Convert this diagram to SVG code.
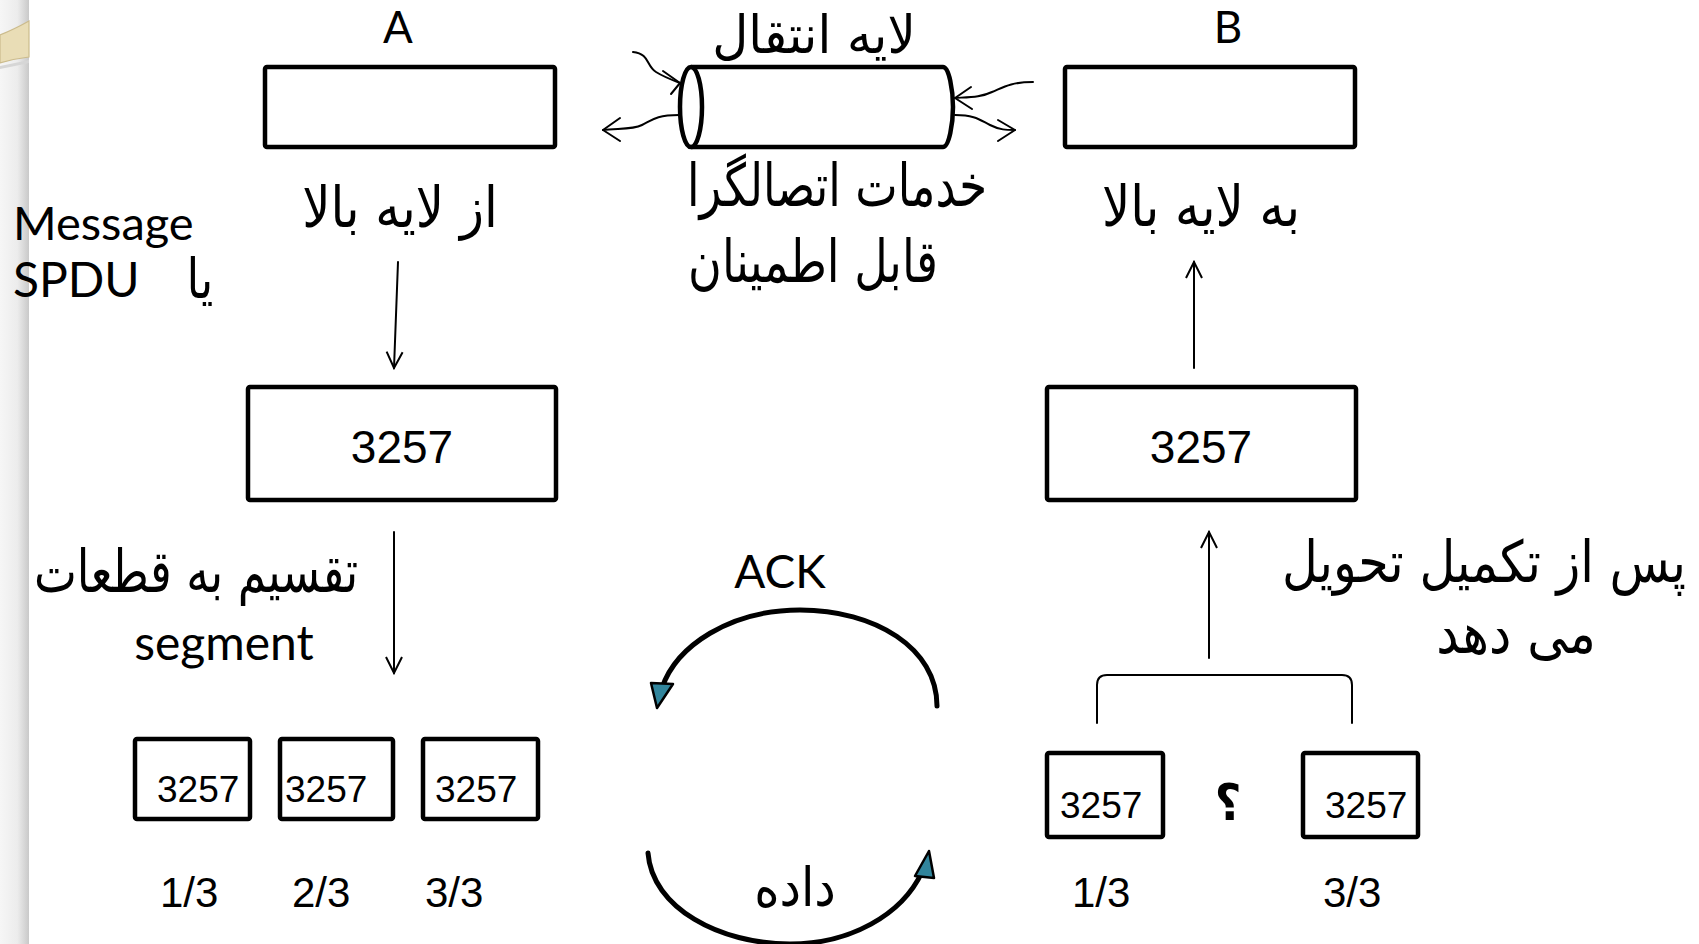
<svg xmlns="http://www.w3.org/2000/svg" width="1699" height="944" viewBox="0 0 1699 944">
<style>
.box{fill:none;stroke:#000;stroke-width:4.5;stroke-linejoin:round}
.lat{font-family:Lato,"Open Sans","DejaVu Sans",sans-serif;fill:#000}
.num{font-family:"Liberation Sans",Arial,sans-serif;fill:#000}
.fa{font-family:"DejaVu Sans","Noto Sans",sans-serif;fill:#000;font-size:46px;text-anchor:middle}
.ln{fill:none;stroke:#000;stroke-width:2;stroke-linecap:round;stroke-linejoin:round}
.arc{fill:none;stroke:#000;stroke-width:5;stroke-linecap:round}
.head{fill:#31859c;stroke:#000;stroke-width:2.5;stroke-linejoin:round}
</style>
<defs>
<linearGradient id="strip" x1="0" y1="0" x2="1" y2="0">
<stop offset="0" stop-color="#f6f6f6"/>
<stop offset="0.6" stop-color="#ececec"/>
<stop offset="1" stop-color="#c9c9c9"/>
</linearGradient>
<marker id="open" viewBox="0 0 20 20" refX="18" refY="10" markerWidth="20" markerHeight="20" markerUnits="userSpaceOnUse" orient="auto">
<path d="M2,2 L18,10 L2,18" fill="none" stroke="#000" stroke-width="2"/>
</marker>
</defs>
<rect width="1699" height="944" fill="#fff"/>
<g id="decor">
<rect x="0" y="0" width="29" height="944" fill="url(#strip)"/>
<path d="M0,66 C10,64 20,62 29,60 L29,63 C20,65 10,67 0,69 Z" fill="#d6d6d6"/>
<path d="M0,35 C10,31 20,26 29,21 L29,57 C20,58 10,60 0,63 Z" fill="#e9ddb6" stroke="#cbbb8c" stroke-width="1.2"/>
</g>

<g id="label-A"><text class="lat" x="398" y="43" font-size="44" text-anchor="middle">A</text></g>
<g id="label-B"><text class="lat" x="1228" y="43" font-size="44" text-anchor="middle">B</text></g>

<g id="node-A-top"><rect class="box" x="265" y="67" width="290" height="80" rx="2"/></g>
<g id="node-B-top"><rect class="box" x="1065" y="67" width="290" height="80" rx="2"/></g>

<g id="node-transport">
<path d="M691,67 L943,67 C949,67 953,90 953,107 C953,124 949,147 943,147 L691,147" fill="#fff" stroke="#000" stroke-width="4.5" stroke-linejoin="round"/>
<ellipse cx="691" cy="107" rx="11" ry="40" fill="#fff" stroke="#000" stroke-width="4.5"/>
<text class="fa" transform="translate(814,53) scale(1.08,1.14)" direction="rtl">لایه انتقال</text>
<text class="fa" transform="translate(837,206) scale(0.98,1.28)" direction="rtl">خدمات اتصالگرا</text>
<text class="fa" transform="translate(813,282) scale(1,1.28)" direction="rtl">قابل اطمینان</text>
</g>

<g id="label-from-upper"><text class="fa" transform="translate(400,227) scale(1.08,1.22)" direction="rtl">از لایه بالا</text></g>
<g id="label-to-upper"><text class="fa" transform="translate(1201,226) scale(1.08,1.22)" direction="rtl">به لایه بالا</text></g>

<g id="label-message">
<text class="lat" x="13" y="240" font-size="47">Message</text>
<text class="lat" x="13" y="297" font-size="48">SPDU</text>
<text class="fa" transform="translate(200,298) scale(1,1.2)" font-size="36" direction="rtl">یا</text>
</g>

<g id="node-A-msg">
<rect class="box" x="248" y="387" width="308" height="113" rx="2"/>
<text class="num" x="402" y="463" font-size="46" text-anchor="middle">3257</text>
</g>
<g id="node-B-msg">
<rect class="box" x="1047" y="387" width="309" height="113" rx="2"/>
<text class="num" x="1201" y="463" font-size="46" text-anchor="middle">3257</text>
</g>

<g id="label-split">
<text class="fa" transform="translate(196,592) scale(0.99,1.28)" direction="rtl">تقسیم به قطعات</text>
<text class="lat" x="224" y="660" font-size="48" text-anchor="middle">segment</text>
</g>

<g id="label-deliver">
<text class="fa" transform="translate(1484,582) scale(1.07,1.25)" direction="rtl">پس از تکمیل تحویل</text>
<text class="fa" transform="translate(1516,653) scale(1.09,1.25)" direction="rtl">می دهد</text>
</g>

<g id="node-A-seg1">
<rect class="box" x="135" y="739" width="115" height="80" rx="2"/>
<text class="num" x="157" y="802" font-size="37">3257</text>
<text class="num" x="160" y="907" font-size="42">1/3</text>
</g>
<g id="node-A-seg2">
<rect class="box" x="280" y="739" width="113" height="80" rx="2"/>
<text class="num" x="285" y="802" font-size="37">3257</text>
<text class="num" x="292" y="907" font-size="42">2/3</text>
</g>
<g id="node-A-seg3">
<rect class="box" x="423" y="739" width="115" height="80" rx="2"/>
<text class="num" x="435" y="802" font-size="37">3257</text>
<text class="num" x="425" y="907" font-size="42">3/3</text>
</g>

<g id="node-B-seg1">
<rect class="box" x="1047" y="753" width="116" height="84" rx="2"/>
<text class="num" x="1060" y="818" font-size="37">3257</text>
<text class="num" x="1072" y="907" font-size="42">1/3</text>
</g>
<g id="node-B-missing"><text class="fa" transform="translate(1228,820) scale(1,1.1)" font-size="56" font-weight="bold">؟</text></g>
<g id="node-B-seg3">
<rect class="box" x="1303" y="753" width="115" height="84" rx="2"/>
<text class="num" x="1325" y="818" font-size="37">3257</text>
<text class="num" x="1323" y="907" font-size="42">3/3</text>
</g>

<g id="label-ack"><text class="lat" x="780" y="588" font-size="46" text-anchor="middle">ACK</text></g>
<g id="label-data"><text class="fa" transform="translate(795,906) scale(1.05,1.18)" font-size="40" direction="rtl">داده</text></g>

<g id="connectors">
<path class="ln" d="M633,52 C650,54 646,66 656,72 C664,77 672,80 680,83"/>
<path class="ln" d="M663,71 L680,83 L671,94"/>
<path class="ln" d="M679,115 C656,115 652,120 642,125 C632,130 616,128 603,130"/>
<path class="ln" d="M620,118 L603,130 L620,141"/>
<path class="ln" d="M1033,82 C1010,82 1002,88 992,92 C982,97 970,97 955,98"/>
<path class="ln" d="M971,87 L955,98 L972,109"/>
<path class="ln" d="M955,115 C975,115 980,120 990,125 C1000,130 1006,130 1015,130"/>
<path class="ln" d="M998,120 L1015,130 L998,141"/>

<line class="ln" x1="398" y1="262" x2="394" y2="368" marker-end="url(#open)"/>
<line class="ln" x1="394" y1="532" x2="394" y2="673" marker-end="url(#open)"/>
<line class="ln" x1="1194" y1="368" x2="1194" y2="262" marker-end="url(#open)"/>
<line class="ln" x1="1209" y1="658" x2="1209" y2="532" marker-end="url(#open)"/>
<path class="ln" d="M1097,723 L1097,685 Q1097,675 1107,675 L1342,675 Q1352,675 1352,685 L1352,723"/>

<path class="arc" d="M937,706 C937,648 875,610 800,610 C730,610 676,646 662,688"/>
<path class="head" d="M657,708 L651,683 L673,684 Z"/>
<path class="arc" d="M648,853 C652,908 720,944 790,944 C850,944 902,915 922,872"/>
<path class="head" d="M929,851 L915,876 L934,878 Z"/>
</g>
</svg>
